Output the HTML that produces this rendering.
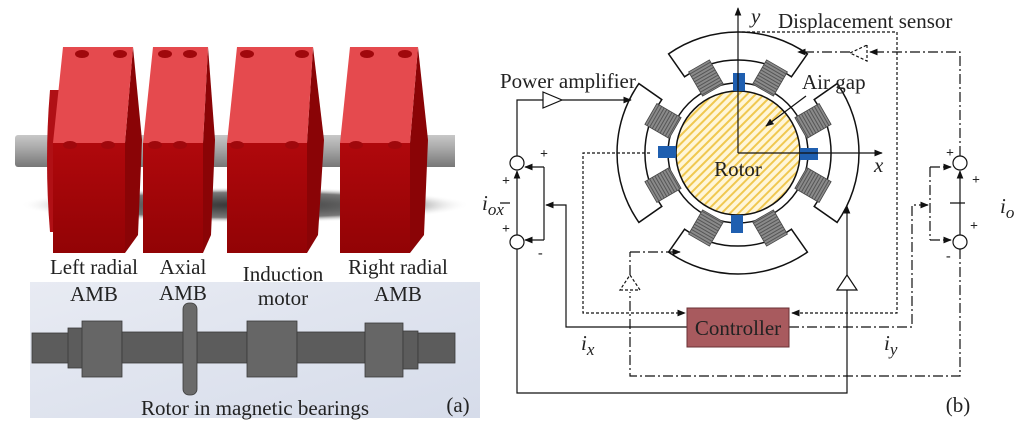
<!DOCTYPE html>
<html><head><meta charset="utf-8"><style>
html,body{margin:0;padding:0;background:#fff;}
svg{display:block;font-family:"Liberation Serif",serif;}
svg text{font-family:"Liberation Serif",serif;fill:#222;}
</style></head><body>
<svg width="1024" height="430" viewBox="0 0 1024 430" xmlns="http://www.w3.org/2000/svg" font-family="Liberation Serif, serif">
<defs>
<linearGradient id="bg" x1="0" y1="0" x2="1" y2="1"><stop offset="0" stop-color="#e8ebf3"/><stop offset="1" stop-color="#d6dcea"/></linearGradient>
<radialGradient id="sh" cx="0.5" cy="0.5" r="0.5"><stop offset="0" stop-color="#333"/><stop offset="0.7" stop-color="#777"/><stop offset="1" stop-color="#fff" stop-opacity="0"/></radialGradient>
<linearGradient id="shaft" x1="0" y1="0" x2="0" y2="1"><stop offset="0" stop-color="#c8c8c8"/><stop offset="0.4" stop-color="#aaa"/><stop offset="1" stop-color="#777"/></linearGradient>
<linearGradient id="front" x1="0" y1="0" x2="0" y2="1"><stop offset="0" stop-color="#b0080c"/><stop offset="1" stop-color="#920305"/></linearGradient>
<pattern id="hatch" width="6" height="6" patternUnits="userSpaceOnUse" patternTransform="rotate(45)"><rect width="6" height="6" fill="#fff6d8"/><rect width="2" height="6" fill="#f0c850"/></pattern>
<pattern id="coil" width="3" height="3" patternUnits="userSpaceOnUse"><rect width="3" height="3" fill="#8a8a8a"/><rect width="3" height="1" fill="#555"/></pattern>
<marker id="ar" viewBox="0 0 10 10" refX="9" refY="5" markerWidth="7" markerHeight="7" orient="auto"><path d="M0,1 L10,5 L0,9 z" fill="#111"/></marker>
<g id="stator">
<path d="M668.6,53.9 A121 121 0 0 1 807.4,53.9 L791.4,76.8 A93 93 0 0 0 684.6,76.8 Z" fill="#fff" stroke="#111" stroke-width="1.5"/>
<g transform="rotate(-30 706 78)"><rect x="694" y="64" width="24" height="28" fill="url(#coil)" stroke="#444" stroke-width="0.8"/></g>
<g transform="rotate(30 770 78)"><rect x="758" y="64" width="24" height="28" fill="url(#coil)" stroke="#444" stroke-width="0.8"/></g>
<rect x="733" y="73" width="12" height="18" fill="#1f5fb0"/>
</g>
</defs>

<!-- Panel (a) -->
<rect x="30" y="282" width="450" height="136" fill="url(#bg)"/>
<ellipse cx="245" cy="205" rx="225" ry="18" fill="url(#sh)"/>
<rect x="15" y="135" width="440" height="32" rx="3" fill="url(#shaft)"/>
<path d="M50,90 Q44,160 50,232 L60,232 L60,90 Z" fill="#b01015"/>
<polygon points="133,47 142,140 138,235 125,253 125,143" fill="#8a0406"/>
<polygon points="63,47 133,47 125,143 53,143" fill="#e54a4e"/>
<rect x="53" y="143" width="72" height="110" fill="url(#front)"/>
<polygon points="208,47 215,140 211,235 203,253 203,143" fill="#8a0406"/>
<polygon points="153,47 208,47 203,143 143,143" fill="#e54a4e"/>
<rect x="143" y="143" width="60" height="110" fill="url(#front)"/>
<polygon points="313,47 324,140 318,235 307,253 307,143" fill="#8a0406"/>
<polygon points="237,47 313,47 307,143 227,143" fill="#e54a4e"/>
<rect x="227" y="143" width="80" height="110" fill="url(#front)"/>
<polygon points="418,47 428,140 424,235 410,253 410,143" fill="#8a0406"/>
<polygon points="350,47 418,47 410,143 340,143" fill="#e54a4e"/>
<rect x="340" y="143" width="70" height="110" fill="url(#front)"/>
<rect x="428" y="135" width="27" height="32" fill="url(#shaft)"/>
<g fill="#a0080c">
<ellipse cx="82" cy="54" rx="7" ry="4"/><ellipse cx="120" cy="54" rx="7" ry="4"/><ellipse cx="70" cy="145" rx="7" ry="4"/><ellipse cx="108" cy="145" rx="7" ry="4"/>
<ellipse cx="165" cy="54" rx="7" ry="4"/><ellipse cx="190" cy="54" rx="7" ry="4"/><ellipse cx="155" cy="145" rx="7" ry="4"/><ellipse cx="180" cy="145" rx="7" ry="4"/>
<ellipse cx="247" cy="54" rx="7" ry="4"/><ellipse cx="302" cy="54" rx="7" ry="4"/><ellipse cx="237" cy="145" rx="7" ry="4"/><ellipse cx="292" cy="145" rx="7" ry="4"/>
<ellipse cx="367" cy="54" rx="7" ry="4"/><ellipse cx="405" cy="54" rx="7" ry="4"/><ellipse cx="356" cy="145" rx="7" ry="4"/><ellipse cx="395" cy="145" rx="7" ry="4"/>
</g>
<g font-size="21" text-anchor="middle">
<text x="94" y="274">Left radial</text><text x="94" y="301">AMB</text>
<text x="183" y="274">Axial</text><text x="183" y="300">AMB</text>
<text x="283" y="281">Induction</text><text x="283" y="305">motor</text>
<text x="398" y="274">Right radial</text><text x="398" y="301">AMB</text>
<text x="255" y="415">Rotor in magnetic bearings</text>
<text x="458" y="412">(a)</text>
</g>
<g fill="#5c5c5c" stroke="#3a3a3a" stroke-width="0.8">
<rect x="32" y="333" width="38" height="30"/>
<rect x="68" y="328" width="15" height="40"/>
<rect x="82" y="321" width="40" height="56" fill="#666"/>
<rect x="122" y="332" width="62" height="31"/>
<rect x="197" y="332" width="50" height="31"/>
<rect x="247" y="321" width="50" height="56" fill="#666"/>
<rect x="297" y="332" width="68" height="31"/>
<rect x="365" y="323" width="38" height="54" fill="#666"/>
<rect x="403" y="331" width="15" height="38"/>
<rect x="418" y="333" width="37" height="30"/>
<rect x="183" y="303" width="14" height="92" rx="6" fill="#6a6a6a"/>
</g>

<!-- Panel (b) -->
<circle cx="738" cy="153" r="70" fill="#fff" stroke="#111" stroke-width="1.5"/>
<circle cx="738" cy="153" r="62" fill="url(#hatch)" stroke="#111" stroke-width="1.5"/>
<use href="#stator"/>
<use href="#stator" transform="rotate(90 738 153)"/>
<use href="#stator" transform="rotate(180 738 153)"/>
<use href="#stator" transform="rotate(270 738 153)"/>
<g fill="none" stroke="#111" stroke-width="1.2">
<path d="M738,153 V8" marker-end="url(#ar)"/>
<path d="M738,153 H882" marker-end="url(#ar)"/>
<path d="M806,96 L766,126" marker-end="url(#ar)"/>
<path d="M742,32 H897 V313 H792" stroke-dasharray="3,2" marker-end="url(#ar)"/>
<path d="M650,153 H583 V313 H685" stroke-dasharray="3,2" marker-end="url(#ar)"/>
<path d="M517,156 V100 H543"/>
<polygon points="543,92 562,100 543,108" fill="#fff"/>
<path d="M562,100 H631" marker-end="url(#ar)"/>
<circle cx="517" cy="163" r="7" fill="#fff"/>
<circle cx="517" cy="242" r="7" fill="#fff"/>
<path d="M517,235 V171" marker-end="url(#ar)"/>
<path d="M517,249 V393 H847 V290"/>
<polygon points="837,290 857,290 847,275" fill="#fff"/>
<path d="M847,275 V206" marker-end="url(#ar)"/>
<path d="M544,167 V240"/>
<path d="M544,167 H525" marker-end="url(#ar)"/>
<path d="M544,240 H525" marker-end="url(#ar)"/>
<path d="M687,327 H566 V205 H546" marker-end="url(#ar)"/>
<g stroke-dasharray="10,3,2,3">
<path d="M960,156 V52 H870" marker-end="url(#ar)"/>
<path d="M850,52 H798" marker-end="url(#ar)"/>
<path d="M960,249 V376 H630 V292"/>
<path d="M630,252 H680" marker-end="url(#ar)"/>
<path d="M930,167 V240"/>
<path d="M930,167 H951" marker-end="url(#ar)"/>
<path d="M930,240 H951" marker-end="url(#ar)"/>
<path d="M789,327 H912 V205 H928" marker-end="url(#ar)"/>
<path d="M630,275 V252"/>
</g>
<path d="M960,235 V171" marker-end="url(#ar)"/>
<circle cx="960" cy="163" r="7" fill="#fff"/>
<circle cx="960" cy="242" r="7" fill="#fff"/>
<polygon points="867,45 867,61 850,53" fill="#fff" stroke-dasharray="3,2"/>
<polygon points="620,290 640,290 630,275" fill="#fff" stroke-dasharray="3,2"/>
<path d="M500,203 H510 M950,203 H965"/>
</g>
<rect x="687" y="308" width="102" height="39" fill="#a85a5e" stroke="#6a3034" stroke-width="1"/>
<text x="738" y="335" font-size="21" text-anchor="middle" fill="#111">Controller</text>
<text x="738" y="176" font-size="21" text-anchor="middle">Rotor</text>
<text x="778" y="28" font-size="21">Displacement sensor</text>
<text x="500" y="88" font-size="21">Power amplifier</text>
<text x="802" y="89" font-size="21">Air gap</text>
<g font-style="italic" font-size="21">
<text x="751" y="23">y</text>
<text x="874" y="172">x</text>
<text x="581" y="350">i<tspan font-size="17" dy="5">x</tspan></text>
<text x="884" y="350">i<tspan font-size="17" dy="5">y</tspan></text>
<text x="482" y="210">i<tspan font-size="17" dy="5">ox</tspan></text>
<text x="1000" y="213">i<tspan font-size="17" dy="5">o</tspan></text>
</g>
<g font-size="14" font-weight="bold" font-family="Liberation Sans, sans-serif">
<text x="540" y="158">+</text><text x="502" y="185">+</text><text x="502" y="233">+</text><text x="538" y="257">-</text>
<text x="946" y="157">+</text><text x="972" y="184">+</text><text x="970" y="230">+</text><text x="946" y="260">-</text>
</g>
<text x="958" y="412" font-size="21" text-anchor="middle">(b)</text>
</svg>
</body></html>
